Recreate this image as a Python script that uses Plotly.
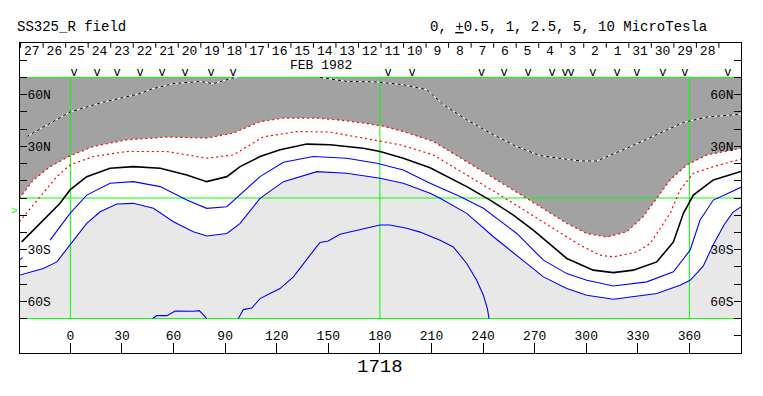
import plotly.graph_objects as go

# ---------------- data ----------------
lon_ticks = [0, 30, 60, 90, 120, 150, 180, 210, 240, 270, 300, 330, 360]
lat_tick_vals = [-60, -30, 30, 60]
lat_tick_text = ["60S", "30S", "30N", "60N"]
lat_minor = [-80, -70, -50, -40, -20, -10, 0, 10, 20, 40, 50, 70, 80]

day_labels = ["27", "26", "25", "24", "23", "22", "21", "20", "19", "18", "17", "16", "15", "14",
              "13", "12", "11", "10", "9", "8", "7", "6", "5", "4", "3", "2", "1",
              "31", "30", "29", "28"]
day_center_lon = [-22.4 + 13.1 * i for i in range(len(day_labels))]
day_edge_lon = [c - 6.55 for c in day_center_lon] + [day_center_lon[-1] + 6.55]

obs_lon = [2.2, 15.5, 27.2, 40.5, 53.3, 66.7, 81.8, 94.6, 184.8, 198.7, 239.2, 252.2,
           266.2, 280.1, 287.7, 291.2, 303.9, 317.9, 329.5, 344.6, 357.4, 382.4]

green_lons = [0, 180, 360]
green_lats = [-70, 0, 70]

# contour -2.5 (white/black dashed)
a_lon = [-25.4, -0.2, 17.3, 40.5, 47.3, 59.9, 75.4, 83.0, 94.6, 97.0, None,
         145.2, 160.7, 178.2, 193.5, 207.3, 216.9, 230.5, 246.0, 259.6, 273.1, 296.4,
         306.1, 323.6, 342.9, 356.5, 370.1, 390.0]
a_lat = [35.7, 49.9, 55.2, 60.6, 63.3, 66.4, 67.7, 66.4, 69.7, 70.0, None,
         70.0, 67.7, 67.4, 65.8, 62.9, 54.2, 45.4, 36.7, 29.9, 24.6, 21.5,
         21.5, 28.9, 37.7, 43.9, 47.0, 48.7]

# contour -1 (red dotted, edge of dark grey)
b_lon = [-29.7, -21.5, -11.8, -0.2, 13.4, 32.8, 56.1, 79.3, 94.8, 110.3, 123.9, 143.3,
         160.7, 180.1, 193.6, 211.1, 230.5, 249.9, 265.4, 279.0, 288.7, 300.3, 311.9,
         323.6, 333.0, 341.0, 348.8, 358.5, 370.1, 385.6, 390.0]
b_lat = [-0.2, 10.5, 18.2, 24.5, 29.9, 33.8, 35.4, 34.8, 37.7, 44.3, 46.4, 46.4,
         44.8, 42.1, 38.6, 32.8, 21.1, 9.5, -0.2, -8.7, -14.7, -20.6, -22.7,
         -19.6, -10.9, -0.2, 10.5, 19.2, 25.0, 28.0, 28.9]

# contour -0.5 (red dotted)
c_lon = [-29.7, -21.5, -15.7, -7.9, -0.2, 13.4, 32.8, 56.1, 79.3, 94.8, 112.2, 131.7,
         151.0, 170.4, 191.7, 211.1, 230.5, 249.9, 265.4, 280.9, 296.4, 308.0, 315.8,
         329.4, 337.2, 341.0, 348.8, 354.6, 362.3, 373.9, 390.0]
c_lat = [-13.8, -4.1, 2.7, 12.4, 19.2, 24.1, 27.0, 27.0, 23.1, 25.0, 35.5, 38.6,
         38.3, 34.8, 30.9, 25.0, 13.4, 1.7, -8.0, -17.6, -27.4, -33.2, -34.2,
         -31.3, -26.4, -20.6, -8.9, 4.7, 14.4, 18.2, 22.6]

# contour 0 (black neutral line)
d_lon = [-28.3, -15.7, -6.0, -0.2, 9.5, 23.1, 36.6, 52.2, 67.7, 79.3, 91.0, 98.7, 110.3,
         122.0, 137.5, 151.0, 170.4, 180.1, 193.6, 209.2, 230.5, 244.1, 257.6, 269.2,
         282.9, 288.7, 304.1, 315.8, 327.4, 341.0, 350.7, 356.5, 362.3, 373.9, 390.0]
d_lat = [-25.5, -12.8, -3.1, 4.7, 12.4, 17.3, 18.2, 17.3, 13.4, 9.5, 12.4, 18.2, 24.1,
         28.0, 31.3, 30.9, 28.9, 27.0, 23.1, 17.6, 6.6, -1.2, -9.9, -18.6,
         -30.3, -35.1, -41.9, -43.3, -41.9, -37.1, -25.5, -8.9, 1.7, 10.5, 15.4]

# contour +0.5 (blue)
e_lon = [-11.8, -0.2, 9.5, 23.1, 36.6, 52.2, 67.7, 79.3, 91.0, 98.7, 110.3, 123.9,
         141.3, 160.7, 178.2, 193.6, 209.2, 226.6, 240.2, 259.6, 275.1, 288.7, 300.3,
         315.8, 335.2, 350.7, 360.4, 366.2, 373.9, 390.0]
e_lat = [-24.5, -8.9, 1.7, 8.6, 9.5, 6.6, -1.2, -6.0, -5.1, 1.7, 12.4, 20.8,
         24.1, 23.1, 20.2, 16.3, 8.6, 0.8, -6.0, -20.6, -36.1, -43.9, -47.8,
         -51.1, -48.7, -42.9, -30.3, -12.8, -1.2, 6.2]
e0_lon = [-29.3, -27.8]
e0_lat = [-35.8, -34.6]

# contour +1 (blue, edge of light grey)
f_lon = [-29.7, -15.7, -7.9, -0.2, 9.5, 17.3, 27.0, 36.6, 48.3, 59.9, 71.5, 79.3, 91.0,
         98.7, 110.3, 123.9, 143.3, 160.7, 180.1, 193.6, 209.2, 215.0, 230.5, 246.0,
         259.6, 275.1, 288.7, 300.3, 315.8, 341.0, 354.5, 360.4, 368.0, 373.7, 380.1,
         385.4, 390.0]
f_lat = [-44.8, -40.9, -37.1, -27.4, -14.7, -8.0, -3.5, -3.1, -6.0, -13.8, -19.6, -22.1,
         -20.6, -14.7, -0.2, 9.5, 15.3, 14.4, 11.5, 8.6, 2.7, -0.2, -8.9, -22.5,
         -33.2, -45.8, -52.6, -56.5, -58.8, -55.5, -50.7, -47.8, -39.6, -27.4, -15.7,
         -8.2, -5.2]

# contour +2.5 (blue, large southern arc)
h_lon = [97.7, 100.6, 105.5, 110.3, 116.1, 121.9, 129.7, 135.5, 141.3, 145.2, 150.0,
         156.8, 168.5, 180.1, 185.9, 195.6, 203.4, 215.0, 222.7, 230.5, 236.3, 240.2,
         242.5, 243.5]
h_lat = [-70.0, -64.8, -63.9, -58.4, -55.5, -52.6, -45.8, -38.0, -30.7, -25.8, -25.0,
         -21.0, -18.2, -15.7, -15.7, -17.6, -19.8, -24.5, -28.4, -38.0, -47.8, -56.5,
         -64.2, -70.0]

# contour +2.5 (blue, small southern bump)
i_lon = [47.9, 50.2, 56.1, 60.9, 71.5, 75.0, 79.3]
i_lat = [-70.0, -68.3, -68.3, -65.6, -65.8, -65.4, -70.0]

x_range = [-29.3, 390.0]
y_range = [-90, 90]

FONT = "Liberation Mono"
GREEN = "#00ff00"

fig = go.Figure()

# dark grey (negative) region
fig.add_trace(go.Scatter(
    x=b_lon + [x_range[1], x_range[0], b_lon[0]],
    y=b_lat + [70, 70, b_lat[0]],
    fill="toself", fillcolor="#a2a2a2", mode="lines", line=dict(width=0),
    hoverinfo="skip"))
# light grey (positive) region
fig.add_trace(go.Scatter(
    x=f_lon + [x_range[1], x_range[0], f_lon[0]],
    y=f_lat + [-70, -70, f_lat[0]],
    fill="toself", fillcolor="#e8e8e8", mode="lines", line=dict(width=0),
    hoverinfo="skip"))

# green reference lines
for lo in green_lons:
    fig.add_trace(go.Scatter(x=[lo, lo], y=[-70, 70], mode="lines",
                             line=dict(color=GREEN, width=1), hoverinfo="skip"))
for la in green_lats:
    fig.add_trace(go.Scatter(x=[x_range[0], x_range[1]], y=[la, la], mode="lines",
                             line=dict(color=GREEN, width=1), hoverinfo="skip"))

# contours
fig.add_trace(go.Scatter(x=a_lon, y=a_lat, mode="lines",
                         line=dict(color="white", width=1)))
fig.add_trace(go.Scatter(x=a_lon, y=a_lat, mode="lines",
                         line=dict(color="black", width=1, dash="3px,3px")))
for lx, ly in [(b_lon, b_lat), (c_lon, c_lat)]:
    fig.add_trace(go.Scatter(x=lx, y=ly, mode="lines",
                             line=dict(color="red", width=1.2, dash="2px,3px")))
fig.add_trace(go.Scatter(x=d_lon, y=d_lat, mode="lines",
                         line=dict(color="black", width=1.6)))
for lx, ly in [(e_lon, e_lat), (e0_lon, e0_lat), (f_lon, f_lat), (h_lon, h_lat), (i_lon, i_lat)]:
    fig.add_trace(go.Scatter(x=lx, y=ly, mode="lines",
                             line=dict(color="blue", width=1.1)))

# day separators along the top edge
sep_x, sep_y = [], []
for e in day_edge_lon:
    sep_x += [e, e, None]
    sep_y += [90, 87.2, None]
fig.add_trace(go.Scatter(x=sep_x, y=sep_y, mode="lines",
                         line=dict(color="black", width=1), hoverinfo="skip"))

# observation markers
fig.add_trace(go.Scatter(x=obs_lon, y=[72.4] * len(obs_lon), mode="text",
                         text=["v"] * len(obs_lon),
                         textfont=dict(family=FONT, size=12, color="black"),
                         cliponaxis=False))

# dummy trace for the top / right axes
fig.add_trace(go.Scatter(x=[None], y=[None], xaxis="x2", yaxis="y2", mode="markers"))

tickfont = dict(family=FONT, size=13, color="black")

# the page body adds an 8px offset, so the figure is 8px smaller on each side
fig.update_layout(
    width=755, height=388,
    margin=dict(l=12, r=22, t=35, b=43, autoexpand=False),
    paper_bgcolor="white", plot_bgcolor="white",
    showlegend=False,
    xaxis=dict(range=x_range, showgrid=False, zeroline=False, automargin=False,
               showline=True, linecolor="black", linewidth=1, mirror=True,
               tickmode="array", tickvals=lon_ticks, ticktext=[str(v) for v in lon_ticks],
               ticks="inside", ticklen=10, tickcolor="black", tickwidth=1,
               ticklabelposition="inside", tickfont=tickfont),
    xaxis2=dict(range=x_range, overlaying="x", side="top", showgrid=False, zeroline=False,
                automargin=False,
                showline=False, tickmode="array", tickvals=day_center_lon, ticktext=day_labels,
                ticks="", ticklabelposition="inside", tickfont=tickfont),
    yaxis=dict(range=y_range, showgrid=False, zeroline=False, automargin=False,
               showline=True, linecolor="black", linewidth=1, mirror=True,
               tickmode="array", tickvals=lat_tick_vals, ticktext=lat_tick_text,
               ticks="inside", ticklen=7, tickcolor="black", tickwidth=1,
               ticklabelposition="inside", tickfont=tickfont,
               minor=dict(tickmode="array", tickvals=lat_minor, ticks="inside",
                          ticklen=7, tickcolor="black", tickwidth=1)),
    yaxis2=dict(range=y_range, overlaying="y", side="right", showgrid=False, zeroline=False,
                automargin=False, showline=False,
                tickmode="array", tickvals=lat_tick_vals, ticktext=lat_tick_text,
                ticks="inside", ticklen=7, tickcolor="black", tickwidth=1,
                ticklabelposition="inside", tickfont=tickfont,
                minor=dict(tickmode="array", tickvals=lat_minor, ticks="inside",
                           ticklen=7, tickcolor="black", tickwidth=1)),
)

fig.add_annotation(text="SS325_R field", xref="paper", yref="paper",
                   x=-0.007, y=1.052, xanchor="left", yanchor="middle", showarrow=False,
                   font=dict(family=FONT, size=14, color="black"))
fig.add_annotation(text="0, <u>+</u>0.5, 1, 2.5, 5, 10 MicroTesla", xref="paper", yref="paper",
                   x=0.566, y=1.052, xanchor="left", yanchor="middle", showarrow=False,
                   font=dict(family=FONT, size=14, color="black"))
fig.add_annotation(text="FEB 1982", xref="x", yref="y", x=146, y=77.2,
                   showarrow=False, font=dict(family=FONT, size=13, color="black"))
fig.add_annotation(text="1718", xref="paper", yref="paper", x=0.4993, y=-0.046,
                   xanchor="center", yanchor="middle", showarrow=False,
                   font=dict(family=FONT, size=19, color="black"))
fig.add_annotation(text=">", xref="paper", yref="y", x=-0.0075, y=-7.6, showarrow=False,
                   xanchor="center", font=dict(family=FONT, size=11, color=GREEN))

fig.write_html("out.html")
